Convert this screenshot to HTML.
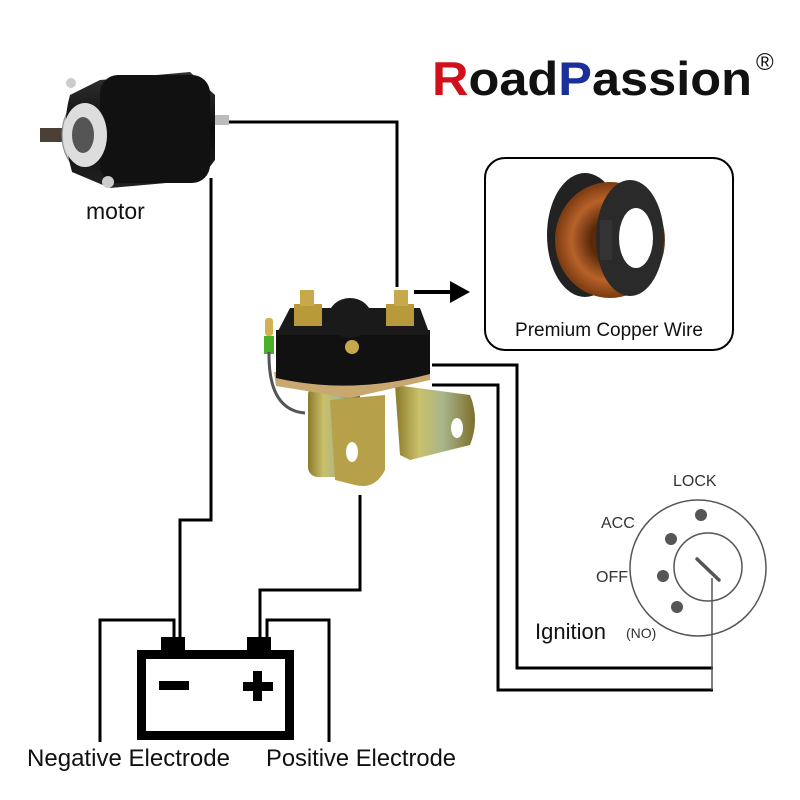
<!DOCTYPE html>
<html><head><meta charset="utf-8"><style>
html,body{margin:0;padding:0;background:#fff;}
svg{display:block;}
</style></head><body>
<svg width="800" height="800" viewBox="0 0 800 800" xmlns="http://www.w3.org/2000/svg">
<defs>
<linearGradient id="gold" x1="0" x2="1" y1="0" y2="0">
<stop offset="0" stop-color="#8a7a2a"/><stop offset="0.3" stop-color="#c9c06a"/><stop offset="0.6" stop-color="#a9b58a"/><stop offset="1" stop-color="#7d6e2a"/>
</linearGradient>
<linearGradient id="blk" x1="0" x2="0" y1="0" y2="1">
<stop offset="0" stop-color="#333"/><stop offset="0.5" stop-color="#0a0a0a"/><stop offset="1" stop-color="#222"/>
</linearGradient>
<radialGradient id="cu" cx="0.5" cy="0.5" r="0.5">
<stop offset="0.35" stop-color="#5a2a0a"/><stop offset="0.7" stop-color="#b8622a"/><stop offset="1" stop-color="#7a3a10"/>
</radialGradient>
</defs>

<!-- Logo -->
<text x="432" y="95" font-family="Liberation Sans, sans-serif" font-weight="bold" font-size="47" textLength="320" lengthAdjust="spacingAndGlyphs"><tspan fill="#d0101a">R</tspan><tspan fill="#111">oad</tspan><tspan fill="#1a2f9a">P</tspan><tspan fill="#111">assion</tspan></text>
<text x="756" y="70" font-family="Liberation Sans, sans-serif" font-size="24" fill="#111">®</text>

<!-- wires -->
<g fill="none" stroke="#000" stroke-width="3">
<polyline points="225,122 397,122 397,287"/>
<polyline points="211,178 211,520 180,520 180,637"/>
<polyline points="100,742 100,620 174,620 174,637"/>
<polyline points="360,495 360,590 260,590 260,637"/>
<polyline points="267,637 267,620 329,620 329,742"/>
<polyline points="432,365 517,365 517,668 713,668"/>
<polyline points="432,385 498,385 498,690 713,690"/>
</g>
<line x1="712" y1="578" x2="712" y2="690" stroke="#555" stroke-width="1.5"/>

<!-- arrow -->
<line x1="414" y1="292" x2="452" y2="292" stroke="#000" stroke-width="4"/>
<polygon points="450,281 470,292 450,303" fill="#000"/>

<!-- copper box -->
<rect x="485" y="158" width="248" height="192" rx="20" fill="#fff" stroke="#000" stroke-width="2"/>
<g>
<ellipse cx="585" cy="235" rx="38" ry="62" fill="#222"/>
<ellipse cx="610" cy="240" rx="55" ry="58" fill="url(#cu)"/>
<ellipse cx="630" cy="238" rx="34" ry="58" fill="#2a2a2a"/>
<ellipse cx="636" cy="238" rx="17" ry="30" fill="#fff"/>
<rect x="600" y="220" width="12" height="40" fill="#333"/>
</g>
<text x="609" y="336" text-anchor="middle" font-family="Liberation Sans, sans-serif" font-size="19" fill="#111">Premium Copper Wire</text>

<!-- motor -->
<g>
<rect x="40" y="128" width="40" height="14" fill="#4a4036"/>
<ellipse cx="80" cy="135" rx="18" ry="32" fill="#ccc" stroke="#888"/>
<path d="M70 95 Q60 130 72 172 L110 188 L200 180 L215 160 L215 95 L190 72 L100 80 Z" fill="url(#blk)"/>
<rect x="100" y="75" width="110" height="108" rx="18" fill="#111"/>
<ellipse cx="85" cy="135" rx="22" ry="32" fill="#ddd"/>
<ellipse cx="83" cy="135" rx="11" ry="18" fill="#555"/>
<rect x="215" y="115" width="14" height="10" fill="#bbb"/>
<circle cx="71" cy="83" r="5" fill="#ccc"/>
<circle cx="108" cy="182" r="6" fill="#ccc"/>
</g>
<text x="86" y="219" font-family="Liberation Sans, sans-serif" font-size="23" fill="#111">motor</text>

<!-- solenoid -->
<g>
<rect x="308" y="385" width="52" height="92" rx="10" fill="url(#gold)"/>
<path d="M330 400 L385 395 L385 470 Q375 490 355 485 L335 480 Z" fill="#b6a14a"/>
<path d="M395 385 L470 395 Q480 420 470 445 L410 460 L400 455 Z" fill="url(#gold)"/>
<ellipse cx="457" cy="428" rx="6" ry="10" fill="#fff"/>
<ellipse cx="352" cy="452" rx="6" ry="10" fill="#fff"/>
<path d="M274 372 L430 372 L430 380 L350 398 L276 386 Z" fill="#c9a870"/>
<path d="M276 330 L430 330 L430 374 Q350 395 276 378 Z" fill="#111"/>
<path d="M290 308 L420 308 L430 335 L276 335 Z" fill="#1a1a1a"/>
<ellipse cx="350" cy="318" rx="22" ry="20" fill="#1a1a1a"/>
<rect x="294" y="304" width="28" height="22" fill="#b89a3a"/>
<rect x="300" y="290" width="14" height="16" fill="#c7a84a"/>
<rect x="386" y="304" width="28" height="22" fill="#b89a3a"/>
<rect x="394" y="290" width="14" height="16" fill="#c7a84a"/>
<circle cx="352" cy="347" r="7" fill="#c7a84a"/>
<rect x="265" y="318" width="8" height="18" rx="3" fill="#d4b054"/>
<rect x="264" y="336" width="10" height="18" fill="#4caf2a"/>
<path d="M269 352 Q268 410 305 413" fill="none" stroke="#555" stroke-width="3"/>
</g>

<!-- ignition -->
<g fill="none" stroke="#555" stroke-width="1.5">
<circle cx="698" cy="568" r="68"/>
<circle cx="708" cy="567" r="34"/>
</g>
<line x1="697" y1="559" x2="719" y2="580" stroke="#555" stroke-width="3.5" stroke-linecap="round"/>
<g fill="#555">
<circle cx="701" cy="515" r="6"/><circle cx="671" cy="539" r="6"/><circle cx="663" cy="576" r="6"/><circle cx="677" cy="607" r="6"/>
</g>
<g font-family="Liberation Sans, sans-serif" fill="#333" font-size="16">
<text x="673" y="486">LOCK</text>
<text x="601" y="528">ACC</text>
<text x="596" y="582">OFF</text>
<text x="626" y="638" font-size="14">(NO)</text>
</g>
<text x="535" y="639" font-family="Liberation Sans, sans-serif" font-size="22" fill="#111">Ignition</text>

<!-- battery -->
<rect x="161" y="637" width="24" height="15" fill="#000"/>
<rect x="247" y="637" width="24" height="15" fill="#000"/>
<rect x="141.5" y="654.5" width="148" height="81" fill="none" stroke="#000" stroke-width="9"/>
<rect x="159" y="681" width="30" height="9" fill="#000"/>
<rect x="243" y="682" width="30" height="9" fill="#000"/>
<rect x="253" y="671" width="9" height="30" fill="#000"/>

<g font-family="Liberation Sans, sans-serif" font-size="24" fill="#111">
<text x="27" y="766" textLength="203" lengthAdjust="spacingAndGlyphs">Negative Electrode</text>
<text x="266" y="766" textLength="190" lengthAdjust="spacingAndGlyphs">Positive Electrode</text>
</g>
</svg>
</body></html>
